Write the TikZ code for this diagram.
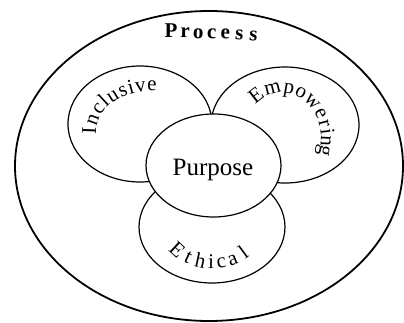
\documentclass[tikz,border=0pt]{standalone}
\usepackage{fontspec}
\setmainfont{Liberation Serif}
\usetikzlibrary{shapes.geometric}
\begin{document}
\begin{tikzpicture}[x=1pt,y=1pt,
  ring/.style={ellipse, draw, line width=1.2pt, fill=white, inner sep=0pt},
  outerring/.style={ellipse, draw, line width=1.8pt, inner sep=0pt},
  lab/.style={inner sep=0pt, anchor=base, font=\fontsize{21}{25}\selectfont},
  plab/.style={inner sep=0pt, anchor=base, font=\fontsize{21}{25}\selectfont\bfseries}]
\useasboundingbox (0,0) rectangle (404,322);
\node[outerring, minimum width=388pt, minimum height=310pt] (proc) at (209,156) {};
\node[ring, minimum width=144pt, minimum height=116pt] (inc) at (140,198) {};
\node[ring, minimum width=148pt, minimum height=116pt] (emp) at (285,197) {};
\node[ring, minimum width=146pt, minimum height=112pt] (eth) at (212,95) {};
\node[ring, minimum width=135pt, minimum height=103pt] (pur) at (213.5,156.5) {};
\node[anchor=base, inner sep=0pt, font=\fontsize{25}{29}\selectfont] (purtext) at (213,147) {Purpose};
% centres of the lettering arcs
\coordinate (incc) at (150,190);
\coordinate (empc) at (282,184);
\coordinate (ethc) at (212,99);
% Process
\foreach \ch/\px/\py/\r [count=\k] in {P/171/284/0, r/185/284/-1, o/198/283.7/-1.5, c/211.5/283.4/-2, e/225/283/-3, s/239/282.4/-4, s/253/281.5/-5}
  \node[plab, rotate=\r] (pro\k) at (\px,\py) {\ch};
% Inclusive
\foreach \ch/\t [count=\k] in {I/178, n/164.6, c/150.6, l/140.4, u/129.4, s/117.6, i/109.1, v/99.4, e/88.2} {
  \pgfmathsetmacro\rot{atan2(54*sin(\t), 41*cos(\t))-90}
  \node[lab, rotate=\rot] (inc\k) at ([shift={(\t:54pt and 41pt)}]incc) {\ch};
}
% Empowering
\foreach \ch/\t [count=\k] in {E/124, m/102, p/81, o/65, w/47, e/29, r/17, i/7.5, n/-3, g/-15} {
  \pgfmathsetmacro\rot{atan2(39*sin(\t), 45*cos(\t))-90}
  \node[lab, rotate=\rot] (emp\k) at ([shift={(\t:39pt and 45pt)}]empc) {\ch};
}
% Ethical
\foreach \ch/\t [count=\k] in {E/223, t/241, h/256, i/269, c/281, a/295, l/311} {
  \pgfmathsetmacro\rot{atan2(54*sin(\t), 46*cos(\t))+90}
  \node[lab, rotate=\rot] (eth\k) at ([shift={(\t:54pt and 46pt)}]ethc) {\ch};
}
\end{tikzpicture}
\end{document}
